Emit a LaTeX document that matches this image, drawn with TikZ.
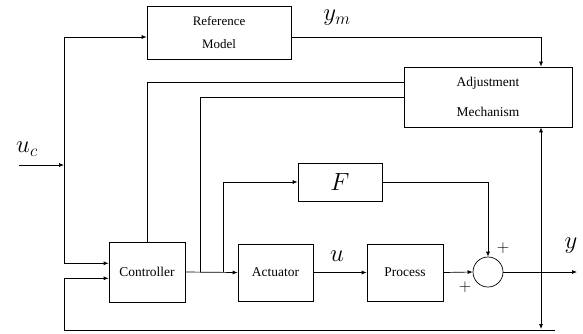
\documentclass[tikz,border=0pt]{standalone}
\usepackage{fontspec}
\setmainfont{Liberation Serif}
\usetikzlibrary{arrows.meta,calc}
\begin{document}
\begin{tikzpicture}[x=1bp,y=-1bp,line width=0.7bp,
  blk/.style={draw,rectangle,inner sep=0pt,align=center,font=\fontsize{13.5}{14}\selectfont},
  arr/.style={-{Latex[length=5bp,width=4bp]}},
  lbl/.style={inner sep=0pt,font=\fontsize{25}{28}\selectfont},
  pm/.style={inner sep=0pt,font=\fontsize{16}{18}\selectfont}]
\useasboundingbox (0,0) rectangle (583,333);
% blocks
\node[blk,minimum width=144bp,minimum height=53bp,font=\fontsize{13}{23}\selectfont] (ref) at (219,32.5) {Reference\\Model};
\node[blk,minimum width=168bp,minimum height=60bp,font=\fontsize{13.5}{30}\selectfont] (adj) at (488,97) {Adjustment\\Mechanism};
\node[blk,minimum width=76bp,minimum height=60bp] (ctrl) at (147,272) {Controller};
\node[blk,minimum width=84bp,minimum height=38bp,font=\fontsize{25}{28}\selectfont] (F) at (340,182) {$F$};
\node[blk,minimum width=75bp,minimum height=57bp] (act) at (275.5,272.5) {Actuator};
\node[blk,minimum width=76bp,minimum height=57bp] (proc) at (405,272.5) {Process};
\node[draw,circle,minimum size=30bp,inner sep=0pt] (sum) at (488,272) {};
% coordinates
\coordinate (ucin) at (19,165);
\coordinate (j1) at (64,165);
\coordinate (refin) at ($(ref.west)+(0,4.5)$);
\coordinate (refout) at ($(ref.east)+(0,4.5)$);
\coordinate (adjt) at ($(adj.north)+(53,0)$);
\coordinate (adjb) at ($(adj.south)+(53,0)$);
\coordinate (adjin1) at ($(adj.west)+(0,-15)$);
\coordinate (ctrlin1) at ($(ctrl.west)+(0,-8.7)$);
\coordinate (ctrlin2) at ($(ctrl.west)+(0,6.3)$);
\coordinate (j2) at (200,272);
\coordinate (j3) at (223,272);
\coordinate (out) at (577,272);
\coordinate (vb) at (541,329);
\coordinate (fbR) at (555,330);
\coordinate (fbL) at (64,330);
% connectors
\draw[arr] (ucin) -- (j1);
\draw[arr] (j1) |- (refin);
\draw[arr] (j1) |- (ctrlin1);
\draw[arr] (refout) -| (adjt);
\draw (ctrl.north) |- (adjin1);
\draw (j2) |- (adj.west);
\draw[arr] (ctrl.east) -- (act.west);
\draw[arr] (j3) |- (F.west);
\draw[arr] (act.east) -- (proc.west);
\draw[arr] (proc.east) -- (sum.west);
\draw[arr] (F.east) -| (sum.north);
\draw[arr] (sum.east) -- (out);
\draw[{Latex[length=5bp,width=4bp]}-{Latex[length=5bp,width=4bp]}] (adjb) -- (vb);
\draw[arr] (fbR) -- (fbL) |- (ctrlin2);
% labels
\node[lbl] (luc) at (27,149) {$u_c$};
\node[lbl] (lym) at (337,18) {$y_m$};
\node[lbl] (lu) at (337,256) {$u$};
\node[lbl] (ly) at (571,246) {$y$};
\node[pm] (p1) at (503,248) {$+$};
\node[pm] (p2) at (465,287) {$+$};
\end{tikzpicture}
\end{document}
